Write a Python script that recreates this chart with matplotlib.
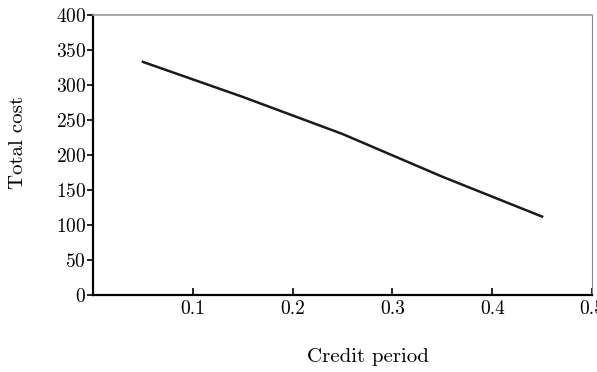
import numpy as np
import matplotlib.pyplot as plt

plt.rcParams['font.family'] = 'serif'
plt.rcParams['font.serif'] = ['cmr10', 'DejaVu Serif']
plt.rcParams['mathtext.fontset'] = 'cm'
plt.rcParams['axes.formatter.use_mathtext'] = True

# credit period vs total cost
credit_period = [0.05, 0.15, 0.25, 0.35, 0.45]
total_cost = [333, 283, 230, 169, 112]

x_ticks = [0.1, 0.2, 0.3, 0.4, 0.5]
y_ticks = [0, 50, 100, 150, 200, 250, 300, 350, 400]

fig = plt.figure(figsize=(5.97, 3.72), dpi=100)
ax = fig.add_axes([0.1558, 0.207, 0.8358, 0.7527])

ax.plot(credit_period, total_cost, color='#1a1a1a', linewidth=1.8)

ax.set_xlim(0, 0.5)
ax.set_ylim(0, 400)
ax.set_xticks(x_ticks)
ax.set_xticklabels(['0.1', '0.2', '0.3', '0.4', '0.5'])
ax.set_yticks(y_ticks)

ax.tick_params(axis='x', direction='in', length=5, width=1.2, labelsize=14, pad=4)
ax.tick_params(axis='y', direction='out', length=4, width=1.2, labelsize=14, pad=1)

ax.spines['left'].set_linewidth(1.6)
ax.spines['bottom'].set_linewidth(1.6)
ax.spines['top'].set_color('#999999')
ax.spines['top'].set_linewidth(1.2)
ax.spines['right'].set_color('#888888')
ax.spines['right'].set_linewidth(0.8)

ax.set_xlabel('Credit period', fontsize=15)
ax.xaxis.set_label_coords(0.551, -0.19)
ax.set_ylabel('Total cost', fontsize=15)
ax.yaxis.set_label_coords(-0.132, 0.543)

fig.savefig('out.png', dpi=100)
